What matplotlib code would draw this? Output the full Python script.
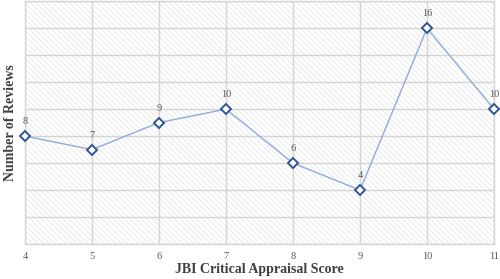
import numpy as np
import matplotlib
matplotlib.use("Agg")
import matplotlib.pyplot as plt
from matplotlib.patches import Rectangle

scores = [4, 5, 6, 7, 8, 9, 10, 11]
reviews = [8, 7, 9, 10, 6, 4, 16, 10]

plt.rcParams['font.family'] = ['Liberation Serif', 'DejaVu Serif']
plt.rcParams['hatch.color'] = '#e2e2e2'
plt.rcParams['hatch.linewidth'] = 0.5

fig = plt.figure(figsize=(5.0, 2.79), dpi=100)
ax = fig.add_axes([0.05, 0.125, 0.938, 0.871])

ax.set_xlim(4, 11)
ax.set_ylim(0, 18)
ax.add_patch(Rectangle((0, 0), 1, 1, transform=ax.transAxes, facecolor='white',
                       hatch='\\' * 6, edgecolor='#e2e2e2', linewidth=0, zorder=0))
ax.set_xticks(scores)
ax.set_yticks(np.arange(0, 19, 2))
ax.grid(True, color='#d4d4d4', linewidth=1.0, zorder=1)
ax.set_axisbelow(True)
for s in ax.spines.values():
    s.set_color('#d4d4d4')
    s.set_linewidth(1.0)

ax.plot(scores, reviews, color='#8faadc', linewidth=1.0, marker='D', markersize=5.5,
        markerfacecolor='white', markeredgecolor='#2f5597', markeredgewidth=1.4,
        zorder=3, clip_on=False)
for x, y in zip(scores, reviews):
    ax.annotate(str(y), (x, y), xytext=(0, 7), textcoords='offset points',
                ha='center', va='bottom', fontsize=7.5, color='#595959')

ax.tick_params(axis='x', length=0, labelsize=7.5, labelcolor='#595959', pad=6)
ax.tick_params(axis='y', length=0, labelleft=False)
ax.set_xlabel('JBI Critical Appraisal Score', fontsize=10, fontweight='bold',
              color='#404040', labelpad=1)
ax.set_ylabel('Number of Reviews', fontsize=10, fontweight='bold',
              color='#404040', labelpad=6)

fig.savefig('out.png', dpi=100)
